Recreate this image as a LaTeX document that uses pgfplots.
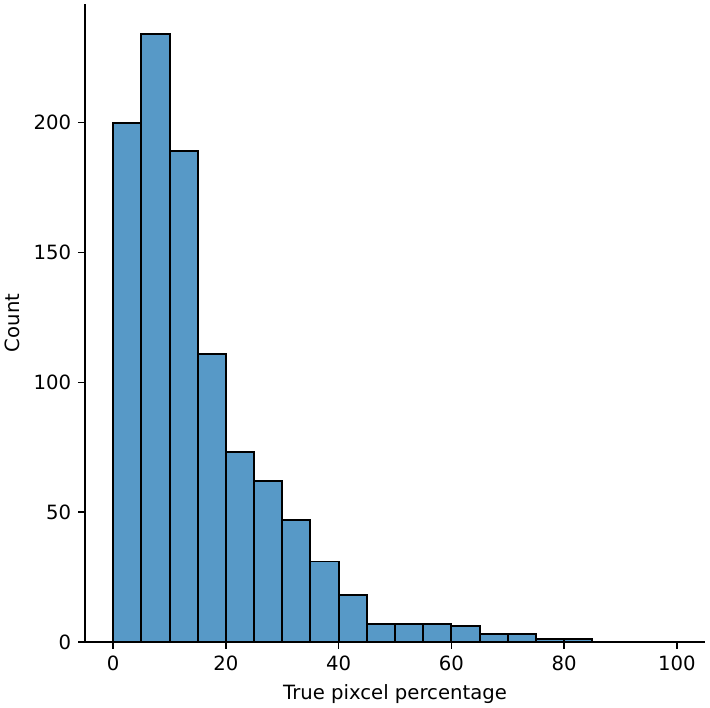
\documentclass[border=0pt]{standalone}
\usepackage{pgfplots}
\pgfplotsset{compat=1.18}
\usepackage{fontspec}
\setmainfont{DejaVu Sans}
\definecolor{barblue}{HTML}{5799C7}
\begin{document}
\begin{tikzpicture}[x=1bp,y=1bp]
\begin{axis}[
 at={(0,0)}, anchor=south west,
 scale only axis, width=314.37bp, height=323.49bp,
 xmin=-5, xmax=105, ymin=0, ymax=245.7,
 axis x line*=bottom, axis y line*=left,
 axis line style={line width=0.8bp, -},
 xtick={0,20,...,100}, ytick={0,50,...,200},
 tick style={line width=0.8bp, black},
 tick align=outside, major tick length=3.5bp,
 tick label style={font=\fontsize{10}{12}\selectfont},
 label style={font=\fontsize{10}{12}\selectfont},
 /pgf/number format/assume math mode=true,
 xlabel={True pixcel percentage}, ylabel={Count},
 clip=false,
]
\addplot[ybar interval, fill=barblue, draw=black, line width=1bp] coordinates {
(0,200)(5,234)(10,189)(15,111)(20,73)(25,62)(30,47)(35,31)(40,18)(45,7)(50,7)(55,7)(60,6)(65,3)(70,3)(75,1)(80,1)(85,0)};
\end{axis}
\pgfresetboundingbox
\path (-43.10,-33.46) rectangle (316.9,325.52);
\end{tikzpicture}
\end{document}
